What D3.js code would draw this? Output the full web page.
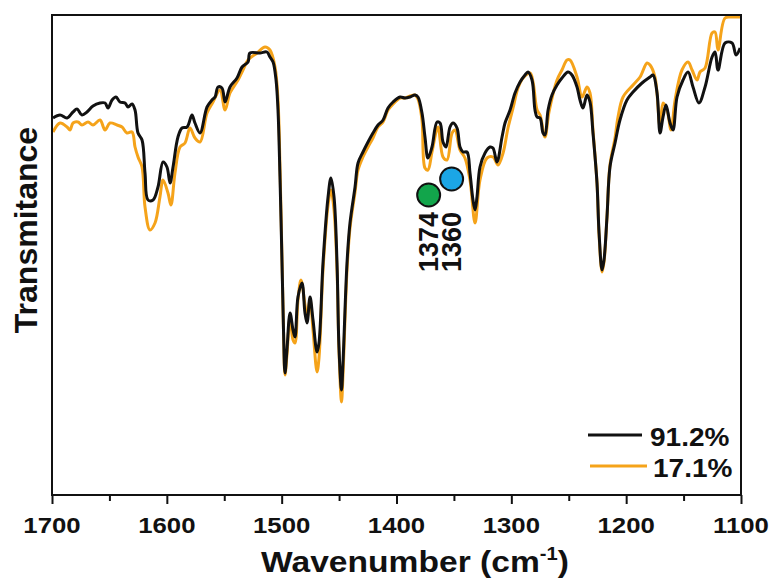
<!DOCTYPE html>
<html>
<head>
<meta charset="utf-8">
<script src="https://cdn.jsdelivr.net/npm/d3@7/dist/d3.min.js"></script>
<style>
    body { margin: 0; background: #fff; }
    text { font-family: "Liberation Sans", Arial, sans-serif; font-weight: bold; fill: #111; }
    .frame { fill: none; stroke: #111; stroke-width: 2; }
    .spectrum { fill: none; stroke-width: 3; stroke-linejoin: round; }
</style>
</head>
<body>
<div id="ftir-chart"></div>
<script>
// Series names and colours (legend order)
const seriesNames = ["91.2%", "17.1%"];
const seriesColors = ["#111111", "#f5a31a"];

// Tick values on the wavenumber axis
const majorTicks = [1700, 1600, 1500, 1400, 1300, 1200, 1100];
const minorTicks = [1650, 1550, 1450, 1350, 1250, 1150];

// Marked bands [wavenumber of the marker, label, colour]
const bandMarks = [[1372, "1374", "#12a54b"], [1352, "1360", "#1ba6e6"]];

// Spectrum of the 91.2% sample: [wavenumber, transmittance (a.u.)]
const spectrum912 = [
    [1699.1, 37.7], [1693.0, 38.0], [1686.9, 37.7], [1681.7, 38.3], [1678.2, 38.6], [1673.9, 38.0],
    [1669.5, 38.3], [1664.3, 38.9], [1658.2, 39.2], [1653.8, 39.2], [1651.2, 38.7], [1647.7, 39.5],
    [1644.3, 39.8], [1640.8, 39.3], [1636.4, 39.2], [1633.8, 38.8], [1630.3, 39.1], [1627.7, 38.5],
    [1625.1, 36.2], [1621.6, 35.5], [1619.0, 32.2], [1616.4, 29.5], [1612.0, 29.5], [1607.7, 30.8],
    [1603.3, 33.3], [1599.9, 32.8], [1597.2, 31.2], [1594.6, 32.8], [1590.3, 35.8], [1586.8, 36.7],
    [1582.4, 36.8], [1578.1, 38.0], [1575.5, 37.2], [1571.1, 36.2], [1565.0, 38.8], [1560.7, 39.5],
    [1558.0, 39.8], [1555.4, 40.8], [1552.0, 40.7], [1549.3, 39.3], [1545.0, 40.8], [1538.9, 41.7],
    [1534.5, 42.8], [1529.3, 43.3], [1527.6, 44.2], [1518.9, 44.2], [1512.8, 44.3], [1510.2, 43.8],
    [1507.5, 43.3], [1504.9, 41.5], [1503.2, 38.5], [1501.4, 31.5], [1499.7, 23.2], [1498.4, 16.5],
    [1497.1, 12.2], [1495.4, 14.5], [1492.7, 18.2], [1490.1, 16.5], [1488.4, 15.8], [1485.8, 19.8],
    [1482.3, 21.2], [1479.7, 18.2], [1477.9, 17.2], [1475.3, 19.8], [1472.7, 17.5], [1469.2, 14.3],
    [1467.5, 15.2], [1464.0, 23.2], [1459.6, 29.8], [1457.1, 31.7], [1454.4, 29.8], [1451.8, 23.2],
    [1450.1, 14.8], [1447.9, 10.5], [1446.6, 13.2], [1443.1, 23.2], [1440.5, 27.2], [1436.1, 30.8],
    [1433.5, 33.2], [1429.2, 34.3], [1424.8, 35.3], [1420.5, 36.2], [1416.1, 37.0], [1411.7, 37.5],
    [1407.4, 38.7], [1403.0, 39.3], [1396.9, 39.8], [1392.6, 39.7], [1388.2, 39.8], [1383.9, 40.0],
    [1381.3, 39.8], [1377.8, 38.2], [1375.2, 35.8], [1372.6, 33.7], [1369.1, 34.8], [1364.7, 37.3],
    [1362.1, 37.2], [1359.5, 35.3], [1356.9, 34.8], [1353.4, 36.8], [1350.8, 37.2], [1347.3, 36.7],
    [1344.7, 34.8], [1342.1, 34.3], [1338.6, 34.3], [1336.0, 32.2], [1333.4, 29.5], [1331.6, 28.5],
    [1329.9, 29.8], [1327.3, 32.8], [1322.9, 34.2], [1318.6, 34.8], [1316.0, 34.7], [1312.5, 33.3],
    [1308.1, 35.8], [1305.5, 37.2], [1301.1, 38.5], [1296.8, 40.2], [1292.4, 41.3], [1288.1, 42.0],
    [1285.5, 42.3], [1282.0, 41.5], [1279.4, 38.5], [1277.6, 37.8], [1275.0, 37.7], [1272.4, 36.2],
    [1270.7, 36.0], [1268.0, 38.5], [1264.6, 40.0], [1260.2, 41.0], [1255.9, 41.7], [1250.6, 42.3],
    [1247.2, 42.0], [1242.8, 40.8], [1240.2, 39.5], [1237.6, 38.7], [1234.1, 40.0], [1231.5, 39.3],
    [1228.9, 36.2], [1225.4, 31.2], [1223.6, 26.2], [1221.0, 22.5], [1219.3, 23.5], [1216.7, 27.8],
    [1214.1, 32.8], [1209.7, 35.2], [1205.4, 37.5], [1199.3, 39.5], [1194.0, 40.3], [1186.2, 41.2],
    [1179.2, 41.8], [1176.6, 42.0], [1173.1, 40.2], [1170.5, 36.2], [1167.9, 37.8], [1165.3, 39.0],
    [1161.8, 37.2], [1159.2, 36.5], [1155.7, 39.8], [1150.5, 41.5], [1146.1, 42.3], [1141.8, 40.8],
    [1136.6, 39.2], [1131.3, 40.8], [1125.2, 43.8], [1122.6, 44.3], [1120.0, 42.5], [1113.9, 45.2],
    [1107.8, 45.2], [1104.3, 44.0], [1100.8, 44.7]
];

// Spectrum of the 17.1% sample: [wavenumber, transmittance (a.u.)]
const spectrum171 = [
    [1699.1, 36.3], [1693.0, 37.2], [1686.9, 36.8], [1684.3, 36.5], [1681.7, 37.2], [1677.4, 37.3],
    [1673.9, 37.0], [1668.6, 37.3], [1664.3, 37.0], [1658.2, 37.5], [1653.8, 36.5], [1649.5, 37.2],
    [1643.4, 37.0], [1639.0, 36.8], [1634.7, 36.2], [1630.3, 36.3], [1627.7, 34.8], [1625.1, 33.8],
    [1621.6, 32.8], [1619.0, 28.8], [1614.7, 26.5], [1610.3, 27.2], [1606.0, 29.8], [1603.3, 31.5],
    [1599.0, 30.2], [1596.4, 29.0], [1592.9, 32.2], [1588.5, 34.8], [1584.2, 35.2], [1579.8, 36.7],
    [1575.5, 35.7], [1571.1, 35.3], [1565.0, 38.2], [1559.8, 39.3], [1553.7, 40.5], [1549.3, 38.5],
    [1545.0, 40.2], [1538.0, 41.5], [1533.7, 42.5], [1529.3, 43.5], [1521.5, 44.2], [1514.5, 44.8],
    [1510.2, 44.5], [1505.8, 42.8], [1503.2, 39.5], [1501.4, 32.5], [1499.7, 23.5], [1498.4, 16.5],
    [1497.1, 12.0], [1495.4, 14.0], [1492.7, 17.7], [1490.1, 15.5], [1488.4, 15.2], [1485.8, 19.5],
    [1483.2, 21.5], [1479.7, 19.0], [1477.9, 17.7], [1475.3, 19.5], [1472.7, 16.5], [1469.2, 12.3],
    [1467.5, 13.7], [1464.0, 22.5], [1459.6, 29.0], [1457.1, 30.5], [1454.4, 28.5], [1451.8, 22.5],
    [1450.1, 14.5], [1447.9, 9.3], [1446.6, 12.0], [1443.1, 22.5], [1440.5, 26.7], [1436.1, 30.3],
    [1433.5, 32.5], [1429.2, 33.8], [1424.8, 34.8], [1420.5, 35.7], [1416.1, 36.8], [1411.7, 37.3],
    [1407.4, 38.5], [1403.0, 39.1], [1396.9, 39.7], [1392.6, 39.7], [1388.2, 39.9], [1383.9, 40.0],
    [1381.3, 39.6], [1377.8, 37.5], [1375.2, 32.7], [1372.6, 32.5], [1369.1, 34.3], [1363.9, 36.8],
    [1359.5, 33.8], [1356.0, 33.5], [1351.6, 36.2], [1349.0, 36.5], [1344.7, 34.5], [1340.4, 33.7],
    [1336.0, 31.5], [1331.6, 27.2], [1327.3, 31.5], [1321.2, 33.7], [1316.0, 33.8], [1311.6, 33.0],
    [1307.2, 34.2], [1302.9, 36.7], [1298.5, 38.7], [1294.2, 40.7], [1289.8, 41.7], [1283.7, 42.2],
    [1281.1, 41.3], [1277.6, 38.5], [1275.0, 38.0], [1270.7, 35.8], [1267.2, 38.3], [1260.2, 41.5],
    [1255.9, 42.5], [1251.5, 43.5], [1248.9, 43.5], [1242.8, 41.8], [1238.4, 39.8], [1234.1, 40.8],
    [1231.5, 40.2], [1228.9, 36.5], [1225.4, 31.2], [1223.6, 26.0], [1221.0, 22.3], [1219.3, 23.3],
    [1216.7, 27.8], [1214.1, 33.0], [1209.7, 35.7], [1207.1, 37.8], [1202.7, 39.8], [1194.0, 41.0],
    [1187.9, 41.8], [1181.8, 43.2], [1179.2, 43.0], [1174.9, 41.8], [1170.5, 36.8], [1167.9, 39.2],
    [1164.4, 38.5], [1160.9, 36.5], [1157.4, 39.5], [1151.4, 42.5], [1146.1, 43.3], [1142.6, 42.5],
    [1138.3, 41.5], [1135.7, 42.3], [1131.3, 42.7], [1125.2, 46.2], [1122.6, 46.3], [1120.0, 44.5],
    [1113.9, 47.7], [1107.8, 47.8], [1100.8, 47.8]
];

/**
 * Constructor for the FTIR spectrum chart
 */
function SpectrumChart(){
    let self = this;

    self.init();
};

/**
 * Builds svg, scales, frame and axis
 */
SpectrumChart.prototype.init = function(){
    let self = this;
    self.margin = {top: 15, right: 36, bottom: 86, left: 52};
    self.width = 777 - self.margin.left - self.margin.right;
    self.height = 581 - self.margin.top - self.margin.bottom;
    // the exported figure is a little wider than tall, text is stretched to match
    self.stretch = 1.12;

    self.svgRoot = d3.select("#ftir-chart").append("svg")
        .attr("width", 777)
        .attr("height", 581);

    self.svg = self.svgRoot.append("g")
        .attr("transform", "translate(" + self.margin.left + "," + self.margin.top + ")");

    // wavenumber axis runs from high to low
    self.x = d3.scaleLinear().domain([1700, 1100]).range([0, self.width]);
    self.y = d3.scaleLinear().domain([0, 48]).range([self.height, 0]);

    self.svg.append("clipPath")
        .attr("id", "plot-clip")
        .append("rect")
        .attr("width", self.width)
        .attr("height", self.height);

    //Bottom axis with outward ticks
    let axis = self.svg.append("g")
        .attr("transform", "translate(0," + self.height + ")");

    axis.call(d3.axisBottom(self.x).tickValues(majorTicks).tickSize(9).tickFormat(""));
    axis.append("g").call(d3.axisBottom(self.x).tickValues(minorTicks).tickSize(6).tickFormat(""));
    axis.selectAll(".domain").remove();
    axis.selectAll("line").attr("stroke", "#111").attr("stroke-width", 2);

    majorTicks.forEach(function(t) {
        self.stretchText(self.svg.append("text"), self.x(t), self.height + 38, 23)
            .attr("text-anchor", "middle")
            .text(t);
    });

    //Axis titles
    let xTitle = self.stretchText(self.svg.append("text"), 363, self.height + 77, 30)
        .attr("text-anchor", "middle");
    xTitle.append("tspan").text("Wavenumber (cm");
    xTitle.append("tspan").attr("font-size", 18).attr("dy", -12).text("-1");
    xTitle.append("tspan").attr("dy", 12).text(")");

    self.svg.append("text")
        .attr("transform", "translate(-15," + (self.height / 2 - 25) + ") rotate(-90)")
        .attr("text-anchor", "middle")
        .attr("font-size", 32)
        .text("Transmitance");
};

/**
 * Puts a text at x,y with a horizontal stretch
 */
SpectrumChart.prototype.stretchText = function(sel, x, y, size){
    let self = this;
    return sel
        .attr("transform", "translate(" + x + "," + y + ") scale(" + self.stretch + ",1)")
        .attr("font-size", size);
};

/**
 * Draws both spectra, band markers and legend
 */
SpectrumChart.prototype.update = function(spectra){
    let self = this;

    const line = d3.line()
        .x(function(d) { return self.x(d[0]); })
        .y(function(d) { return self.y(d[1]); })
        .curve(d3.curveCatmullRom.alpha(0.5));

    // 17.1% goes under the 91.2% trace
    self.svg.append("g")
        .attr("clip-path", "url(#plot-clip)")
        .selectAll("path")
        .data(spectra.slice().reverse())
        .enter()
        .append("path")
        .attr("class", "spectrum")
        .attr("stroke", function(d) { return d.color; })
        .attr("d", function(d) { return line(d.values); });

    //Band markers with rotated labels
    bandMarks.forEach(function(b, i) {
        let cx = self.x(b[0]);
        self.svg.append("circle")
            .attr("cx", cx)
            .attr("cy", i == 0 ? 180 : 164)
            .attr("r", 11.5)
            .attr("fill", b[2])
            .attr("stroke", "#111")
            .attr("stroke-width", 2);
        self.svg.append("text")
            .attr("transform", "translate(" + (cx + 9) + ",197) rotate(-90)")
            .attr("text-anchor", "end")
            .attr("font-size", 27)
            .text(b[1]);
    });

    //Legend
    spectra.forEach(function(s, i) {
        let ly = 420 + i * 31;
        self.svg.append("line")
            .attr("x1", 536 + i * 2)
            .attr("x2", 590 + i * 5)
            .attr("y1", ly)
            .attr("y2", ly)
            .attr("stroke", s.color)
            .attr("stroke-width", 3);
        self.stretchText(self.svg.append("text"), 598 + i * 3, ly + 11, 25)
            .text(s.name);
    });

    //Frame on top
    self.svg.append("rect")
        .attr("class", "frame")
        .attr("width", self.width)
        .attr("height", self.height);
};

let chart = new SpectrumChart();
chart.update([
    {name: seriesNames[0], color: seriesColors[0], values: spectrum912},
    {name: seriesNames[1], color: seriesColors[1], values: spectrum171}
]);
</script>
</body>
</html>
